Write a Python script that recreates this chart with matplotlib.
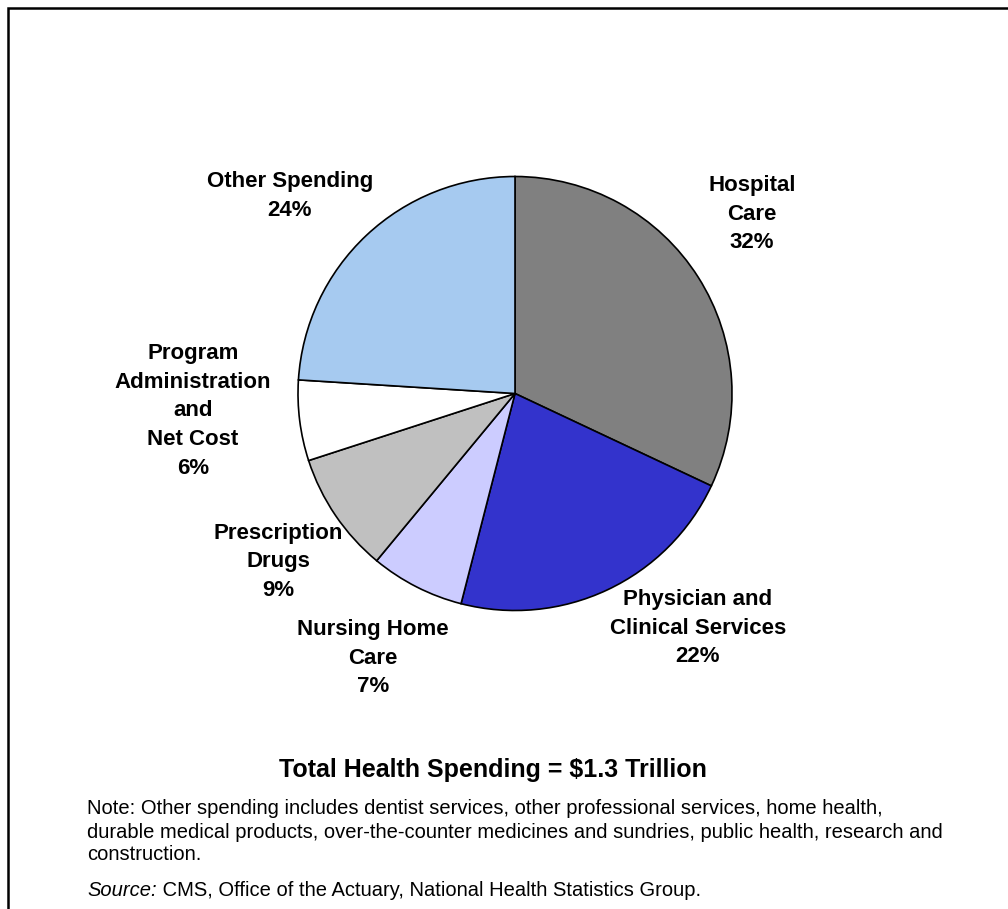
import matplotlib
matplotlib.use("Agg")
import matplotlib.pyplot as plt
from matplotlib.patches import Rectangle

plt.rcParams['font.family'] = ['Liberation Sans', 'DejaVu Sans']

# ---- data ----
categories = ["Hospital\nCare", "Physician and\nClinical Services", "Nursing Home\nCare",
              "Prescription\nDrugs", "Program\nAdministration\nand\nNet Cost", "Other Spending"]
values = [32, 22, 7, 9, 6, 24]
colors = ["#808080", "#3333CC", "#CCCCFF", "#C0C0C0", "#FFFFFF", "#A6CAF0"]
title = "Total Health Spending = $1.3 Trillion"
note_lines = ["Note: Other spending includes dentist services, other professional services, home health,",
              "durable medical products, over-the-counter medicines and sundries, public health, research and",
              "construction."]
source_label = "Source:"
source_text = " CMS, Office of the Actuary, National Health Statistics Group."

# ---- layout (pixel coordinates, y from top) ----
W, H = 1008, 909
label_pos = [(752, 214), (698, 628), (373, 658), (278, 562), (193, 411), (290, 196)]
note_y = [808, 832, 855]
source_y = 890

fig = plt.figure(figsize=(W / 100, H / 100), dpi=100)
ax = fig.add_axes([0, 0, 1, 1])

ax.pie(values, colors=colors, startangle=90, counterclock=False,
       center=(515, H - 393.5), radius=217,
       wedgeprops=dict(edgecolor="black", linewidth=1.2))
ax.set_xlim(0, W)
ax.set_ylim(0, H)
ax.set_aspect('auto')
ax.axis('off')

for cat, v, (x, y) in zip(categories, values, label_pos):
    ax.text(x, H - y, f"{cat}\n{v}%", ha="center", va="center",
            fontsize=16, fontweight="bold", linespacing=1.49)

ax.text(493, H - 770, title, ha="center", va="center", fontsize=18, fontweight="bold")
for line, y in zip(note_lines, note_y):
    ax.text(87, H - y, line, ha="left", va="center", fontsize=14.5)
t = ax.text(87, H - source_y, source_label, ha="left", va="center", fontsize=14.5, style="italic")
fig.canvas.draw()
bb = t.get_window_extent()
ax.text(bb.x1, H - source_y, source_text, ha="left", va="center", fontsize=14.5)

# frame around the figure
ax.add_patch(Rectangle((8, -50), 1100, H - 8 + 50, fill=False, edgecolor="black",
                       linewidth=1.8, clip_on=False))

fig.savefig("out.png", dpi=100)
